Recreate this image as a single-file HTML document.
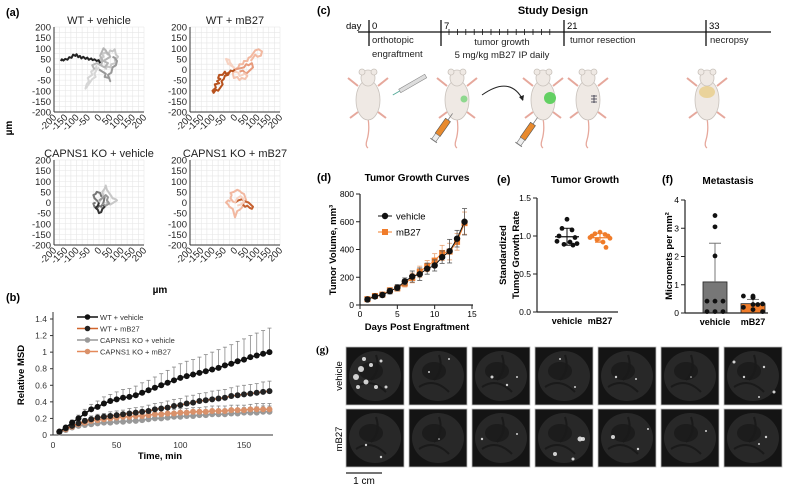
<!DOCTYPE html>
<html><head><meta charset="utf-8"><style>
html,body{margin:0;padding:0;background:#fff;}
svg{display:block;font-family:"Liberation Sans",Arial,sans-serif;}
</style></head><body>
<svg id="fig" width="787" height="489" viewBox="0 0 787 489" xmlns="http://www.w3.org/2000/svg">
<g id="pa"></g>
<g id="pb"></g>
<g id="pc"></g>
<g id="pd"></g>
<g id="pe"></g>
<g id="pf"></g>
<g id="pg"></g>
</svg>
<script>
// ---------- data ----------
const bTimes=[5,10,15,20,25,30,35,40,45,50,55,60,65,70,75,80,85,90,95,100,105,110,115,120,125,130,135,140,145,150,155,160,165,170];
const bWtVeh=[0.04,0.09,0.15,0.2,0.26,0.31,0.34,0.38,0.41,0.43,0.45,0.46,0.48,0.51,0.54,0.57,0.6,0.63,0.66,0.69,0.71,0.73,0.75,0.77,0.79,0.81,0.84,0.86,0.89,0.91,0.94,0.96,0.98,1.0];
const bWtVehErr=[0.01,0.02,0.03,0.04,0.05,0.06,0.07,0.08,0.08,0.09,0.1,0.1,0.11,0.12,0.12,0.13,0.14,0.15,0.16,0.17,0.18,0.18,0.19,0.2,0.21,0.22,0.22,0.23,0.24,0.25,0.26,0.27,0.28,0.29];
const bWtMb=[0.04,0.08,0.11,0.14,0.17,0.19,0.21,0.22,0.23,0.24,0.25,0.26,0.27,0.28,0.29,0.31,0.32,0.33,0.35,0.36,0.38,0.39,0.41,0.42,0.43,0.44,0.45,0.47,0.48,0.49,0.5,0.51,0.52,0.53];
const bWtMbErr=[0.01,0.02,0.02,0.03,0.03,0.04,0.04,0.04,0.05,0.05,0.05,0.06,0.06,0.06,0.07,0.07,0.07,0.08,0.08,0.08,0.09,0.09,0.09,0.09,0.1,0.1,0.1,0.1,0.11,0.11,0.11,0.11,0.12,0.12];
const bKoVeh=[0.03,0.06,0.09,0.11,0.12,0.13,0.14,0.15,0.15,0.16,0.16,0.17,0.17,0.18,0.19,0.2,0.2,0.21,0.22,0.22,0.23,0.23,0.24,0.24,0.25,0.25,0.25,0.26,0.26,0.27,0.27,0.27,0.28,0.28];
const bKoMb=[0.04,0.07,0.1,0.13,0.15,0.17,0.18,0.19,0.2,0.21,0.22,0.22,0.23,0.23,0.24,0.25,0.25,0.26,0.26,0.27,0.27,0.28,0.28,0.28,0.29,0.29,0.29,0.3,0.3,0.3,0.31,0.31,0.31,0.31];
const bKoErr=[0.01,0.01,0.02,0.02,0.02,0.03,0.03,0.03,0.03,0.03,0.04,0.04,0.04,0.04,0.04,0.04,0.05,0.05,0.05,0.05,0.05,0.05,0.05,0.06,0.06,0.06,0.06,0.06,0.06,0.06,0.06,0.07,0.07,0.07];
const bYTicks=[0,0.2,0.4,0.6,0.8,1,1.2,1.4];
const bXTicks=[0,50,100,150];

const dDays=[1,2,3,4,5,6,7,8,9,10,11,12,13,14];
const dVeh=[40,62,72,100,125,170,205,222,262,285,345,388,478,600];
const dVehErr=[10,15,15,20,22,25,40,45,40,40,45,85,60,95];
const dMb=[42,65,75,105,120,155,195,240,280,320,375,385,455,590];
const dMbErr=[10,12,15,20,20,25,35,40,40,50,55,60,60,80];
const dYTicks=[0,200,400,600,800];
const dXTicks=[0,5,10,15];

const eVeh=[1.22,1.1,1.08,1.0,0.98,0.93,0.9,0.89,0.92,0.88];
const eMb=[1.05,1.03,1.02,1.0,1.0,0.98,0.97,0.95,0.92,0.85];
const eYTicks=[0,0.5,1.0,1.5];

const fVeh=[3.45,3.05,2.02,0.42,0.42,0.42,0.05,0.05,0.05];
const fMb=[0.6,0.55,0.55,0.6,0.3,0.32,0.2,0.12,0.05,0.3];
const fMeans=[1.1,0.33];
const fSD=[1.37,0.15];
const fYTicks=[0,1,2,3,4];

// trajectories (µm)
const trajWtVehBlack=[[-170,40],[-165,48],[-158,42],[-150,50],[-140,46],[-132,58],[-122,55],[-115,70],[-105,64],[-100,72],[-92,58],[-85,64],[-78,52],[-70,60],[-60,50],[-52,56],[-45,46],[-35,52],[-28,44],[-20,48],[-10,40],[-2,44],[5,30]];
const trajWtVehGray=[
 [[0,20],[10,35],[5,50],[20,60],[15,75],[30,80],[40,70],[50,90],[60,85],[70,95],[75,70],[85,60],[70,45],[75,30],[55,25],[50,10],[35,15],[30,0]],
 [[0,10],[-10,0],[-20,-20],[-15,-35],[-30,-45],[-40,-60],[-50,-75],[-60,-90],[-55,-70],[-45,-55],[-50,-40],[-30,-25],[-35,-10],[-15,5],[-10,20]],
 [[0,0],[15,-10],[30,-20],[25,-35],[45,-40],[50,-55],[40,-25],[55,-15],[60,10],[75,20],[80,40],[70,55],[60,60]],
 [[10,20],[15,45],[5,65],[20,100],[30,90],[35,80],[45,70],[50,60],[35,50],[20,40],[40,30],[25,10],[-10,30],[-30,20],[-20,0]]];
const trajWtMbDark=[[0,0],[-10,-8],[-20,-5],[-25,-15],[-40,-20],[-45,-10],[-55,-25],[-70,-25],[-75,-40],[-65,-45],[-80,-55],[-70,-65],[-90,-70],[-85,-85],[-100,-100],[-95,-110],[-85,-95],[-75,-100],[-65,-85],[-55,-70],[-60,-55],[-50,-45],[-45,-30],[-30,-25],[-25,-10]];
const trajWtMbLight=[
 [[0,0],[15,10],[20,25],[35,25],[40,40],[55,40],[60,55],[70,60],[80,75],[90,90],[105,95],[120,85],[115,65],[100,60],[90,70],[80,55],[70,40]],
 [[0,0],[-10,15],[-20,30],[-30,25],[-40,50],[-25,45],[-20,20],[-5,10],[0,-10],[15,-15],[20,-30],[35,-25],[40,-20]],
 [[0,0],[20,5],[40,10],[50,25],[60,20],[75,30],[80,10],[70,0],[60,-10],[50,-20],[35,-5],[20,-10]],
 [[0,0],[-10,-20],[-5,-40],[10,-35],[20,-50],[30,-40],[45,-45],[55,-30],[40,-15]]];
const trajKoVeh=[
 [[0,0],[-10,10],[-20,20],[-25,35],[-15,40],[-10,50],[5,45],[10,30],[25,25],[20,0],[10,-20],[0,-15],[-10,-30],[-20,-20],[-25,-5],[-15,0]],
 [[0,0],[10,15],[20,30],[15,50],[25,65],[30,80],[35,60],[45,45],[55,30],[60,20],[75,15],[80,10],[65,0],[50,-10],[40,5],[30,-5]],
 [[0,0],[-5,-15],[-15,-25],[-5,-35],[0,-50],[10,-45],[15,-30],[25,-20],[20,-10]],
 [[0,10],[15,20],[30,35],[40,25],[35,10],[45,-5],[30,-15],[15,-5]]];
const trajKoMb=[
 [[0,0],[-10,5],[-20,20],[-15,35],[-20,45],[-5,50],[10,60],[20,55],[30,45],[40,40],[45,25],[50,10],[40,0],[35,-15],[30,-25],[20,-35],[10,-40],[5,-55],[0,-70],[-5,-50],[-10,-30],[-25,-20],[-30,-10],[-40,0],[-30,10],[-20,5]],
 [[0,0],[15,10],[30,15],[45,5],[60,0],[70,-10],[80,-20],[75,-30],[65,-25],[55,-15],[45,-20],[35,-10]],
 [[0,0],[10,20],[25,30],[35,20],[40,5],[25,-10],[10,-15]]];
const aTicks=[-200,-150,-100,-50,0,50,100,150,200];

// ---------- helpers ----------
const NS="http://www.w3.org/2000/svg";
function mk(tag,attrs,parent){const e=document.createElementNS(NS,tag);for(const k in attrs)e.setAttribute(k,attrs[k]);parent.appendChild(e);return e;}
function txt(s,attrs,parent){const e=mk('text',attrs,parent);e.textContent=s;return e;}
const pa=document.getElementById('pa'),pb=document.getElementById('pb'),pc=document.getElementById('pc'),pd=document.getElementById('pd'),pe=document.getElementById('pe'),pf=document.getElementById('pf'),pg=document.getElementById('pg');

// ---------- panel a ----------
let el=txt('(a)',{x:6,y:16,'font-size':11,'font-weight':'bold'},pa);

function trajPlot(x0,y0,title,paths){
  const w=90,h=85;
  const sx=v=>x0+(v+200)/400*w, sy=v=>y0+h-(v+200)/400*h;
  const g=mk('g',{},pa);
  
  for(let i=0;i<=16;i++){
    mk('line',{x1:x0+i*w/16,x2:x0+i*w/16,y1:y0,y2:y0+h,stroke:'#e6e6e6','stroke-width':0.6},g);
    mk('line',{x1:x0,x2:x0+w,y1:y0+i*h/16,y2:y0+i*h/16,stroke:'#e6e6e6','stroke-width':0.6},g);
  }
  mk('line',{x1:x0,x2:x0,y1:y0,y2:y0+h,stroke:'#333','stroke-width':1},g);
  mk('line',{x1:x0,x2:x0+w,y1:y0+h,y2:y0+h,stroke:'#333','stroke-width':1},g);
  aTicks.forEach(t=>{
    let l=txt(String(t),{x:x0-3,y:sy(t)+3.5,'font-size':9.5,'text-anchor':'end',fill:'#222'},g);
    
    let xl=txt(String(t),{x:sx(t)+3,y:y0+h+6,'font-size':9.5,'text-anchor':'end',fill:'#222',transform:`rotate(-45 ${sx(t)+3} ${y0+h+6})`},g);
    
  });
  let tt=txt(title,{x:x0+w/2,y:y0-3,'font-size':11,'text-anchor':'middle',fill:'#222'},g);
  
  paths.forEach(p=>{
    const pl=mk('polyline',{points:p.pts.map(q=>sx(q[0])+','+sy(q[1])).join(' '),fill:'none',stroke:p.c,'stroke-width':2,'stroke-linejoin':'round'},g);
    
  });
}
trajPlot(54,27,'WT + vehicle',[...trajWtVehGray.map((p,i)=>({pts:p,c:['#c8c8c8','#d6d6d6','#999999','#b5b5b5'][i]})),{pts:trajWtVehBlack,c:'#222'}]);
trajPlot(190,27,'WT + mB27',[...trajWtMbLight.map((p,i)=>({pts:p,c:['#f2b8a0','#f7d3c3','#e79a7c','#f4c4b0'][i]})),{pts:trajWtMbDark,c:'#b8521e'}]);
trajPlot(54,160,'CAPNS1 KO + vehicle',trajKoVeh.map((p,i)=>({pts:p,c:['#777','#c8c8c8','#333','#999'][i]})));
trajPlot(190,160,'CAPNS1 KO + mB27',trajKoMb.map((p,i)=>({pts:p,c:['#f2b8a0','#c5602f','#f7d3c3'][i]})));
el=txt('µm',{x:12,y:128,'font-size':10,'font-weight':'bold','text-anchor':'middle',transform:'rotate(-90 12 128)'},pa);

el=txt('µm',{x:160,y:293,'font-size':10,'font-weight':'bold','text-anchor':'middle'},pa);


// ---------- panel b ----------
el=txt('(b)',{x:6,y:301,'font-size':11,'font-weight':'bold'},pb);

const bx=t=>53+t*191/150, by=v=>435-v*116/1.4;
mk('line',{x1:53,x2:53,y1:312,y2:435,stroke:'#333'},pb);
mk('line',{x1:53,x2:273,y1:435,y2:435,stroke:'#333'},pb);
bYTicks.forEach(t=>{
  mk('line',{x1:50,x2:53,y1:by(t),y2:by(t),stroke:'#333'},pb);
  let l=txt(String(t),{x:47,y:by(t)+3,'font-size':8.5,'text-anchor':'end',fill:'#333'},pb);
  
});
bXTicks.forEach(t=>{
  let l=txt(String(t),{x:bx(t),y:448,'font-size':8.5,'text-anchor':'middle',fill:'#333'},pb);
  
});
el=txt('Time, min',{x:160,y:459,'font-size':9.5,'font-weight':'bold','text-anchor':'middle'},pb);

el=txt('Relative MSD',{x:24,y:375,'font-size':9.5,'font-weight':'bold','text-anchor':'middle',transform:'rotate(-90 24 375)'},pb);

const bSeries=[
 {v:bKoVeh,e:bKoErr,line:'#999',mk:'#999',name:'CAPNS1 KO + vehicle'},
 {v:bKoMb,e:bKoErr,line:'#e4895a',mk:'#d9916a',name:'CAPNS1 KO + mB27'},
 {v:bWtMb,e:bWtMbErr,line:'#d2652c',mk:'#222',name:'WT + mB27'},
 {v:bWtVeh,e:bWtVehErr,line:'#111',mk:'#111',name:'WT + vehicle'}];
bSeries.forEach(s=>{
  const g=mk('g',{},pb);
  
  s.v.forEach((v,i)=>{
    const x=bx(bTimes[i]);
    mk('line',{x1:x,x2:x,y1:by(v),y2:by(v+s.e[i]),stroke:'#888','stroke-width':0.8},g);
    mk('line',{x1:x-2,x2:x+2,y1:by(v+s.e[i]),y2:by(v+s.e[i]),stroke:'#888','stroke-width':0.8},g);
  });
  mk('polyline',{points:s.v.map((v,i)=>bx(bTimes[i])+','+by(v)).join(' '),fill:'none',stroke:s.line,'stroke-width':1.5},g);
  s.v.forEach((v,i)=>{
    const c=mk('circle',{cx:bx(bTimes[i]),cy:by(v),r:3,fill:s.mk},g);
    
  });
});
[['WT + vehicle','#111','#111'],['WT + mB27','#d2652c','#222'],['CAPNS1 KO + vehicle','#999','#999'],['CAPNS1 KO + mB27','#e4895a','#d9916a']].forEach((l,i)=>{
  const y=317+i*11.5;
  const g=mk('g',{},pb);
  
  mk('line',{x1:77,x2:98,y1:y,y2:y,stroke:l[1],'stroke-width':1.5},g);
  mk('circle',{cx:87.5,cy:y,r:2.8,fill:l[2]},g);
  txt(l[0],{x:100,y:y+3,'font-size':7.5,fill:'#333'},g);
});

// ---------- panel c ----------
el=txt('(c)',{x:317,y:14,'font-size':11,'font-weight':'bold'},pc);

el=txt('Study Design',{x:553,y:14,'font-size':11,'font-weight':'bold','text-anchor':'middle'},pc);

mk('line',{x1:358,x2:771,y1:32,y2:32,stroke:'#111','stroke-width':1.3},pc);
el=txt('day',{x:346,y:29,'font-size':9.5},pc);

[[369,'0'],[441,'7'],[564,'21'],[706,'33']].forEach(d=>{
  mk('line',{x1:d[0],x2:d[0],y1:20,y2:46,stroke:'#111','stroke-width':1.3},pc);
  let t=txt(d[1],{x:d[0]+3,y:29,'font-size':9.5},pc);
  
});
for(let i=0;i<13;i++){const x=449+i*8.4;mk('line',{x1:x,x2:x,y1:29,y2:35,stroke:'#111','stroke-width':0.8},pc);}
[['orthotopic',372,43,'start'],['engraftment',372,57,'start'],['tumor growth',502,45,'middle'],['5 mg/kg mB27 IP daily',502,58,'middle'],['tumor resection',570,43,'start'],['necropsy',710,43,'start']].forEach(a=>{
  let t=txt(a[0],{x:a[1],y:a[2],'font-size':9.5,'text-anchor':a[3],fill:'#222'},pc);
  
});
function mouse(cx){
  const g=mk('g',{},pc);
  
  const pink='#e6a89c';
  mk('path',{d:`M${cx} 118 q2 12 -1 22 q-2 6 1 8`,fill:'none',stroke:pink,'stroke-width':1.3},g);
  mk('path',{d:`M${cx-10} 86 l-10 -8 M${cx+10} 86 l10 -8 M${cx-10} 112 l-8 6 M${cx+10} 112 l8 6`,stroke:pink,'stroke-width':2,fill:'none'},g);
  mk('ellipse',{cx:cx,cy:100,rx:12,ry:20,fill:'#efe9e4',stroke:'#c9c2bc','stroke-width':0.8},g);
  mk('ellipse',{cx:cx,cy:78,rx:7,ry:8,fill:'#efe9e4',stroke:'#c9c2bc','stroke-width':0.8},g);
  mk('circle',{cx:cx-6,cy:72,r:3,fill:'#efe9e4',stroke:'#c9c2bc','stroke-width':0.8},g);
  mk('circle',{cx:cx+6,cy:72,r:3,fill:'#efe9e4',stroke:'#c9c2bc','stroke-width':0.8},g);
  return g;
}
function syringe(x,y,ang){
  const g=mk('g',{transform:`translate(${x} ${y}) rotate(${ang})`},pc);
  
  mk('rect',{x:-3,y:0,width:6,height:18,fill:'#e88a2e',stroke:'#555','stroke-width':0.6},g);
  mk('rect',{x:-2.5,y:18,width:5,height:7,fill:'#eee',stroke:'#777','stroke-width':0.6},g);
  mk('line',{x1:0,x2:0,y1:0,y2:-8,stroke:'#777','stroke-width':0.8},g);
  mk('line',{x1:-4,x2:4,y1:25,y2:25,stroke:'#777','stroke-width':1},g);
}
mouse(368);
let sg=mk('g',{transform:'translate(398 92) rotate(60)'},pc);

mk('rect',{x:-2,y:-32,width:4,height:30,fill:'#ddd',stroke:'#888','stroke-width':0.6},sg);
mk('line',{x1:0,x2:0,y1:-2,y2:6,stroke:'#5a9',"stroke-width":1},sg);
mouse(457);mk('circle',{cx:464,cy:99,r:3.5,fill:'#8ed88e'},pc);
syringe(448,120,35);
el=mk('path',{d:'M482 95 Q510 75 523 100',fill:'none',stroke:'#222','stroke-width':1},pc);

mk('path',{d:'M519 97 l4 4 l1 -6 z',fill:'#222'},pc);
mouse(543);mk('circle',{cx:550,cy:98,r:6,fill:'#63d063'},pc);
syringe(533,124,35);
mouse(588);mk('path',{d:'M591 96 h6 M591 99 h6 M591 102 h6 M594 95 v8',stroke:'#334','stroke-width':0.8},pc);
mouse(707);mk('ellipse',{cx:707,cy:92,rx:8,ry:6,fill:'#e6c56a',opacity:0.6},pc);

// ---------- panel d ----------
el=txt('(d)',{x:317,y:181,'font-size':11,'font-weight':'bold'},pd);

el=txt('Tumor Growth Curves',{x:417,y:181,'font-size':10,'font-weight':'bold','text-anchor':'middle'},pd);

const dx=v=>360+v*112/15, dy=v=>305-v*111/800;
mk('line',{x1:360,x2:360,y1:194,y2:305,stroke:'#222','stroke-width':1.2},pd);
mk('line',{x1:360,x2:473,y1:305,y2:305,stroke:'#222','stroke-width':1.2},pd);
dYTicks.forEach(t=>{mk('line',{x1:356,x2:360,y1:dy(t),y2:dy(t),stroke:'#222'},pd);
  let l=txt(String(t),{x:354,y:dy(t)+3,'font-size':8.5,'text-anchor':'end'},pd);});
dXTicks.forEach(t=>{mk('line',{x1:dx(t),x2:dx(t),y1:305,y2:309,stroke:'#222'},pd);
  let l=txt(String(t),{x:dx(t),y:317,'font-size':8.5,'text-anchor':'middle'},pd);});
el=txt('Days Post Engraftment',{x:417,y:330,'font-size':9.5,'font-weight':'bold','text-anchor':'middle'},pd);

el=txt('Tumor Volume, mm³',{x:336,y:250,'font-size':9.5,'font-weight':'bold','text-anchor':'middle',transform:'rotate(-90 336 250)'},pd);

[[dMb,dMbErr,'#f07c2a','sq'],[dVeh,dVehErr,'#111','c']].forEach(s=>{
  const g=mk('g',{},pd);
  
  s[0].forEach((v,i)=>{const x=dx(dDays[i]);
    mk('line',{x1:x,x2:x,y1:dy(v-s[1][i]),y2:dy(v+s[1][i]),stroke:s[3]=='sq'?'#e8a070':'#555','stroke-width':0.8},g);
    mk('line',{x1:x-2.5,x2:x+2.5,y1:dy(v+s[1][i]),y2:dy(v+s[1][i]),stroke:s[3]=='sq'?'#e8a070':'#555','stroke-width':0.8},g);
    mk('line',{x1:x-2.5,x2:x+2.5,y1:dy(v-s[1][i]),y2:dy(v-s[1][i]),stroke:s[3]=='sq'?'#e8a070':'#555','stroke-width':0.8},g);});
  mk('polyline',{points:s[0].map((v,i)=>dx(dDays[i])+','+dy(v)).join(' '),fill:'none',stroke:s[2],'stroke-width':1},g);
  s[0].forEach((v,i)=>{let m;
    if(s[3]=='sq')m=mk('rect',{x:dx(dDays[i])-3,y:dy(v)-3,width:6,height:6,fill:s[2]},g);
    else m=mk('circle',{cx:dx(dDays[i]),cy:dy(v),r:3.2,fill:s[2]},g);
    });
});
[['vehicle','#111','c',216],['mB27','#f07c2a','sq',232]].forEach(l=>{
  const g=mk('g',{},pd);
  mk('line',{x1:378,x2:392,y1:l[3],y2:l[3],stroke:l[1]},g);
  if(l[2]=='c')mk('circle',{cx:385,cy:l[3],r:3.2,fill:l[1]},g);else mk('rect',{x:382,y:l[3]-3,width:6,height:6,fill:l[1]},g);
  txt(l[0],{x:396,y:l[3]+3.5,'font-size':9.5},g);});

// ---------- panel e ----------
el=txt('(e)',{x:497,y:183,'font-size':11,'font-weight':'bold'},pe);

el=txt('Tumor Growth',{x:585,y:183,'font-size':10,'font-weight':'bold','text-anchor':'middle'},pe);

const ey=v=>312-v*114/1.5;
mk('line',{x1:537,x2:537,y1:198,y2:312,stroke:'#222','stroke-width':1.2},pe);
mk('line',{x1:537,x2:618,y1:312,y2:312,stroke:'#222','stroke-width':1.2},pe);
eYTicks.forEach(t=>{mk('line',{x1:533,x2:537,y1:ey(t),y2:ey(t),stroke:'#222'},pe);
  let l=txt(t.toFixed(1),{x:531,y:ey(t)+3,'font-size':8.5,'text-anchor':'end'},pe);});
[['vehicle',567],['mB27',600]].forEach(c=>{let l=txt(c[0],{x:c[1],y:324,'font-size':9,'font-weight':'bold','text-anchor':'middle'},pe);});
el=txt('Standardized',{x:506,y:255,'font-size':9.5,'font-weight':'bold','text-anchor':'middle',transform:'rotate(-90 506 255)'},pe);

el=txt('Tumor Growth Rate',{x:519,y:255,'font-size':9.5,'font-weight':'bold','text-anchor':'middle',transform:'rotate(-90 519 255)'},pe);

const eOff=[0,-5,5,-8,8,-10,10,-3,3,6];
[[eVeh,567,'#111'],[eMb,600,'#f07c2a']].forEach(s=>{
  const g=mk('g',{},pe);
  const m=s[0].reduce((a,b)=>a+b,0)/s[0].length;
  const sd=Math.sqrt(s[0].reduce((a,b)=>a+(b-m)*(b-m),0)/(s[0].length-1));
  mk('line',{x1:s[1]-12,x2:s[1]+12,y1:ey(m),y2:ey(m),stroke:s[2],'stroke-width':1.2},g);
  mk('line',{x1:s[1],x2:s[1],y1:ey(m-sd),y2:ey(m+sd),stroke:s[2],'stroke-width':1},g);
  mk('line',{x1:s[1]-5,x2:s[1]+5,y1:ey(m+sd),y2:ey(m+sd),stroke:s[2]},g);
  mk('line',{x1:s[1]-5,x2:s[1]+5,y1:ey(m-sd),y2:ey(m-sd),stroke:s[2]},g);
  s[0].forEach((v,i)=>{const c=mk('circle',{cx:s[1]+eOff[i],cy:ey(v),r:2.4,fill:s[2]},g);
    });
});

// ---------- panel f ----------
el=txt('(f)',{x:662,y:183,'font-size':11,'font-weight':'bold'},pf);

el=txt('Metastasis',{x:728,y:184,'font-size':10,'font-weight':'bold','text-anchor':'middle'},pf);

const fy=v=>313-v*113/4;
const fx=[715,753];
[[fMeans[0],fx[0],'#777'],[fMeans[1],fx[1],'#f07c2a']].forEach((b,i)=>{
  const r=mk('rect',{x:b[1]-12,y:fy(b[0]),width:24,height:313-fy(b[0]),fill:b[2],stroke:'#222','stroke-width':0.8},pf);
  
  mk('line',{x1:b[1],x2:b[1],y1:fy(b[0]),y2:fy(b[0]+fSD[i]),stroke:'#777','stroke-width':1},pf);
  mk('line',{x1:b[1]-6,x2:b[1]+6,y1:fy(b[0]+fSD[i]),y2:fy(b[0]+fSD[i]),stroke:'#777','stroke-width':1},pf);
});
mk('line',{x1:685,x2:685,y1:200,y2:313,stroke:'#222','stroke-width':1.2},pf);
mk('line',{x1:685,x2:768,y1:313,y2:313,stroke:'#222','stroke-width':1.2},pf);
fYTicks.forEach(t=>{mk('line',{x1:681,x2:685,y1:fy(t),y2:fy(t),stroke:'#222'},pf);
  let l=txt(String(t),{x:679,y:fy(t)+3,'font-size':8.5,'text-anchor':'end'},pf);});
[['vehicle',fx[0]],['mB27',fx[1]]].forEach(c=>{let l=txt(c[0],{x:c[1],y:325,'font-size':9,'font-weight':'bold','text-anchor':'middle'},pf);});
el=txt('Micromets per mm²',{x:672,y:256,'font-size':9.5,'font-weight':'bold','text-anchor':'middle',transform:'rotate(-90 672 256)'},pf);

const fOff=[0,0,0,-8,0,8,-8,0,8,4];
[[fVeh,fx[0]],[fMb,fx[1]]].forEach(s=>s[0].forEach((v,i)=>{
  const c=mk('circle',{cx:s[1]+fOff[i]*(s[1]==fx[1]?1.2:1),cy:fy(v),r:2.4,fill:'#111'},pf);
  }));

// ---------- panel g ----------
el=txt('(g)',{x:316,y:353,'font-size':11,'font-weight':'bold','font-family':'Liberation Serif'},pg);

el=txt('vehicle',{x:342,y:376,'font-size':9.5,'text-anchor':'middle',transform:'rotate(-90 342 376)'},pg);

el=txt('mB27',{x:342,y:439,'font-size':9.5,'text-anchor':'middle',transform:'rotate(-90 342 439)'},pg);

const tileDots=[
 [[10,30,3],[15,22,3],[20,35,2.5],[25,18,2],[30,40,2],[12,40,2],[35,14,1.5],[40,40,1.5],[18,12,2]],
 [[20,25,1],[40,12,1]],[[20,30,1.5],[35,38,1.2],[45,30,1]],[[25,12,1],[40,40,1]],[[18,30,1.2],[38,32,1]],[[30,30,0.8]],
 [[10,15,1.5],[20,30,1.2],[40,20,1.2],[50,45,1.5],[35,50,1]],
 [[20,36,1.2],[35,48,1.2]],[[30,30,0.8]],[[10,30,1.2],[45,25,1]],[[20,45,2],[45,30,2.5],[48,30,2],[38,50,1.5]],[[15,28,2],[40,40,1.2],[50,20,1]],[[45,22,1]],[[42,28,1.2],[35,35,1]]];
for(let r=0;r<2;r++)for(let c=0;c<7;c++){
  const x=346+c*63,y=347+r*62;
  const g=mk('g',{},pg);
  
  mk('rect',{x:x,y:y,width:58,height:58,fill:'#141414',stroke:'#bbb','stroke-width':0.8},g);
  mk('ellipse',{cx:x+29,cy:y+29,rx:26,ry:25,fill:'#282828'},g);
  mk('ellipse',{cx:x+25,cy:y+24,rx:12,ry:9,fill:'#1c1c1c'},g);
  mk('path',{d:`M${x+10} ${y+40} q15 -10 30 5 M${x+30} ${y+8} q5 15 -5 25`,stroke:'#1a1a1a','stroke-width':2,fill:'none'},g);
  tileDots[r*7+c].forEach(d=>mk('circle',{cx:x+d[0],cy:y+d[1],r:d[2],fill:'#eee',opacity:0.85},g));
}
el=mk('line',{x1:346,x2:382,y1:473,y2:473,stroke:'#222','stroke-width':1.2},pg);

el=txt('1 cm',{x:364,y:484,'font-size':10,'text-anchor':'middle'},pg);

</script>
</body></html>
